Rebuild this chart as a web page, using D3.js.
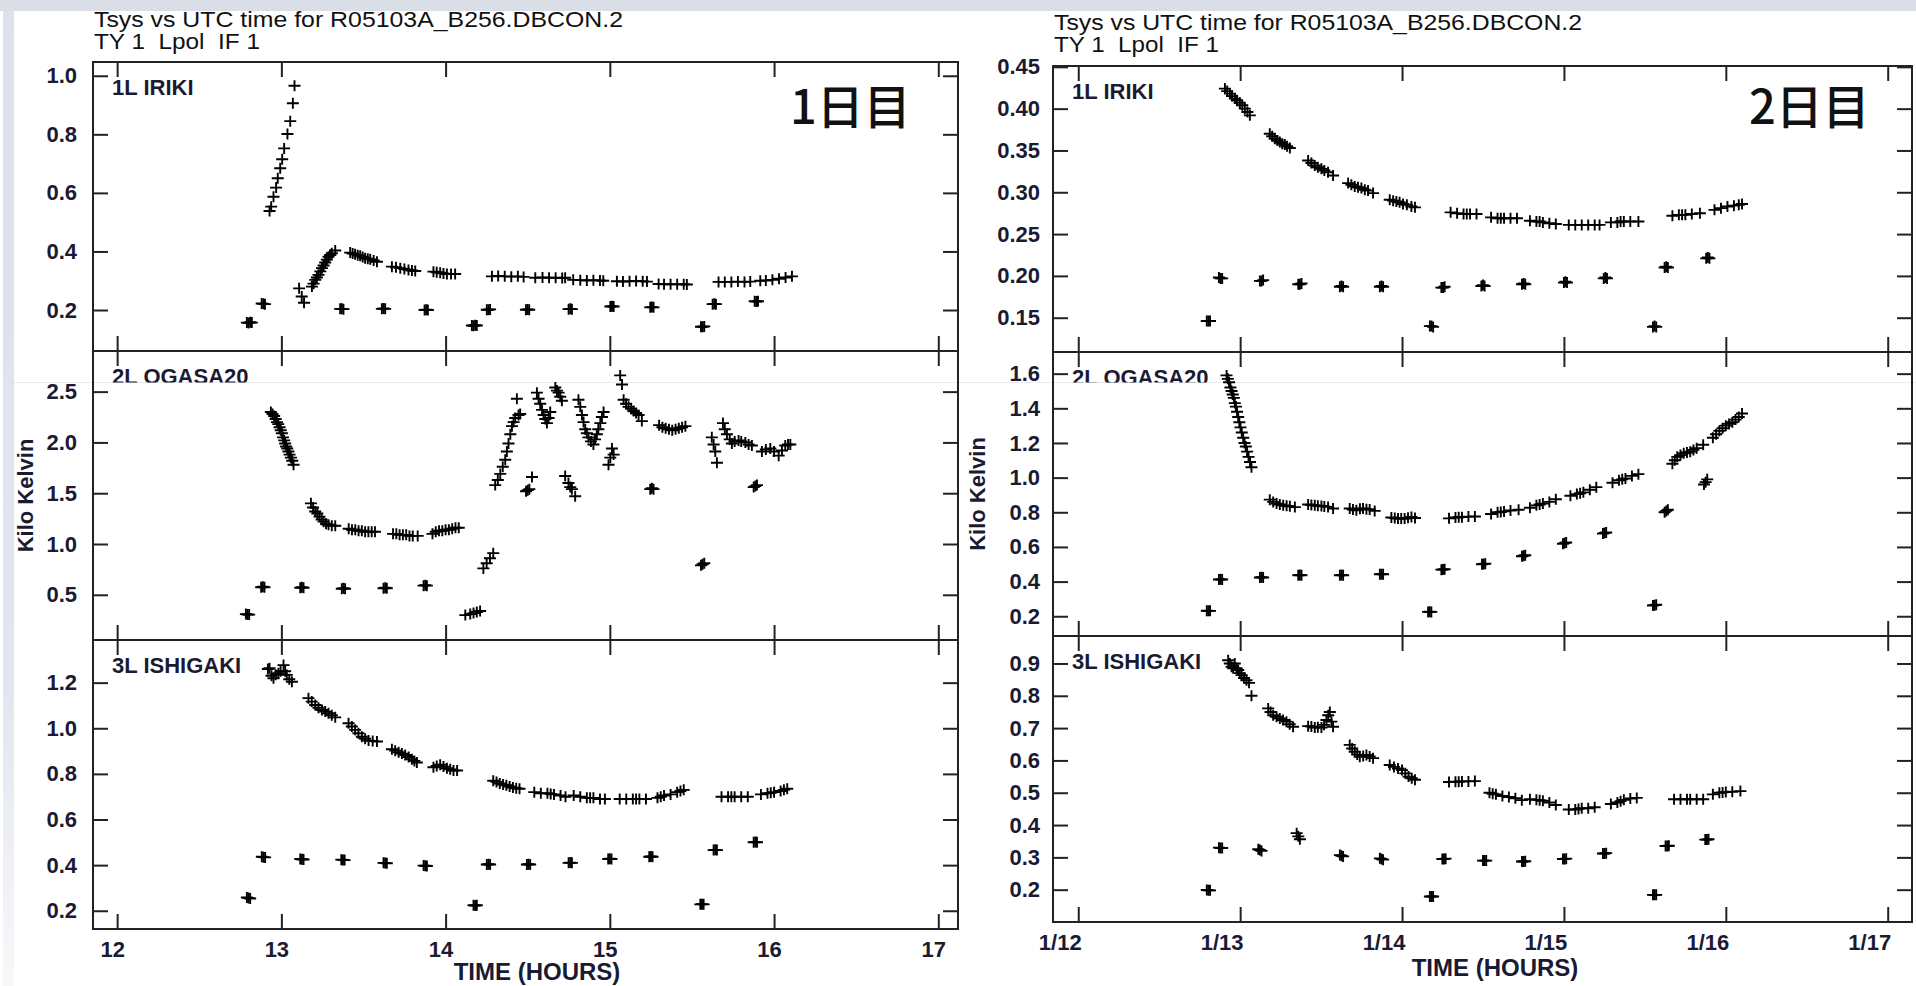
<!DOCTYPE html>
<html>
<head>
<meta charset="utf-8">
<script src="https://cdn.jsdelivr.net/npm/d3@7"></script>
<style>
  body { margin: 0; background: #fff; }
  svg { display: block; }
  .axis text { font-family: "Liberation Sans", Arial, sans-serif; font-weight: bold; font-size: 22px; fill: #1a1a33; }
  .axis line { stroke: #222; stroke-width: 2; }
  .label { font-family: "Liberation Sans", Arial, sans-serif; font-weight: bold; font-size: 22px; fill: #1a1a33; }
  .title { font-family: "Liberation Sans Narrow", "Liberation Sans", Arial, sans-serif; font-size: 22.5px; fill: #111; white-space: pre; }
  .day { font-family: "Noto Sans CJK JP", sans-serif; font-weight: 500; font-size: 47px; fill: #111; }
</style>
</head>
<body>
<svg id="chart" width="1916" height="986"></svg>
<script>
// Tsys vs UTC time, two observing days side by side (three stations each).

var TICK = 15;

var hourTicks = [12, 13, 14, 15, 16, 17];
var day1TickLabels = ["12", "13", "14", "15", "16", "17"];
var day2TickLabels = ["1/12", "1/13", "1/14", "1/15", "1/16", "1/17"];
var stationNames = ["1L IRIKI", "2L OGASA20", "3L ISHIGAKI"];
var titleLines = ["Tsys vs UTC time for R05103A_B256.DBCON.2", "TY 1  Lpol  IF 1"];

// y ranges and tick values for each panel (Kilo Kelvin)
var day1YDomains = [[0.060, 1.047], [0.055, 2.90], [0.12, 1.387]];
var day2YDomains = [[0.109, 0.451], [0.086, 1.725], [0.10, 0.985]];
var day1YTicks = [[0.2, 0.4, 0.6, 0.8, 1.0], [0.5, 1.0, 1.5, 2.0, 2.5], [0.2, 0.4, 0.6, 0.8, 1.0, 1.2]];
var day2YTicks = [[0.15, 0.20, 0.25, 0.30, 0.35, 0.40, 0.45], [0.2, 0.4, 0.6, 0.8, 1.0, 1.2, 1.4, 1.6], [0.2, 0.3, 0.4, 0.5, 0.6, 0.7, 0.8, 0.9]];
var day1YFormats = [".1f", ".1f", ".1f"];
var day2YFormats = [".2f", ".1f", ".1f"];

// [UTC hour, Tsys in kK]
var day1Iriki = [
  [12.928,0.538],[12.938,0.553],[12.952,0.587],[12.968,0.618],[12.978,0.650],[12.993,0.684],[13.005,0.715],[13.017,0.752],[13.037,0.801],[13.054,0.845],[13.070,0.906],[13.080,0.966],
  [12.79,0.157],[12.80,0.156],[12.81,0.158],[12.82,0.157],[12.88,0.222],[12.89,0.221],[12.90,0.220],
  [13.108,0.274],[13.124,0.246],[13.138,0.225],[13.186,0.280],[13.196,0.290],[13.206,0.303],[13.216,0.311],[13.226,0.320],[13.237,0.332],[13.247,0.343],[13.257,0.352],[13.267,0.362],[13.277,0.372],[13.287,0.382],[13.297,0.388],[13.307,0.394],[13.328,0.403],
  [13.419,0.396],[13.434,0.393],[13.449,0.390],[13.465,0.387],[13.480,0.385],[13.495,0.381],[13.510,0.377],[13.526,0.375],[13.541,0.373],[13.562,0.369],[13.582,0.365],
  [13.673,0.348],[13.698,0.346],[13.724,0.343],[13.749,0.340],[13.774,0.337],[13.795,0.335],[13.815,0.333],
  [13.926,0.331],[13.946,0.329],[13.967,0.327],[13.987,0.325],[14.008,0.323],[14.033,0.323],[14.058,0.323],
  [13.358,0.204],[13.368,0.204],[13.378,0.203],[13.612,0.204],[13.622,0.205],[13.632,0.204],[13.872,0.200],[13.882,0.201],[13.892,0.200],[14.16,0.147],[14.17,0.146],[14.18,0.148],[14.19,0.147],
  [14.282,0.315],[14.32,0.316],[14.36,0.315],[14.40,0.314],[14.44,0.315],[14.475,0.313],
  [14.546,0.310],[14.59,0.311],[14.63,0.310],[14.67,0.310],[14.71,0.309],[14.728,0.310],
  [14.777,0.303],[14.82,0.302],[14.86,0.301],[14.90,0.302],[14.94,0.301],[14.960,0.300],
  [15.043,0.298],[15.08,0.297],[15.12,0.298],[15.16,0.299],[15.20,0.298],[15.226,0.297],
  [15.297,0.289],[15.33,0.288],[15.37,0.288],[15.41,0.288],[15.45,0.288],[15.469,0.287],
  [15.662,0.296],[15.70,0.296],[15.74,0.296],[15.78,0.297],[15.82,0.296],[15.855,0.297],
  [15.916,0.300],[15.95,0.301],[15.99,0.303],[16.03,0.307],[16.07,0.311],[16.109,0.315],
  [14.251,0.201],[14.261,0.201],[14.271,0.202],[14.489,0.201],[14.499,0.202],[14.509,0.201],[14.749,0.203],[14.759,0.204],[14.769,0.203],
  [15.003,0.212],[15.013,0.213],[15.023,0.212],[15.246,0.209],[15.256,0.210],[15.266,0.209],[15.555,0.143],[15.565,0.143],[15.575,0.144],
  [15.626,0.220],[15.636,0.221],[15.646,0.220],[15.882,0.230],[15.892,0.229],[15.902,0.230]
];

var day1Ogasa = [
  [12.936,2.30],[12.946,2.28],[12.956,2.26],[12.965,2.23],[12.973,2.20],[12.981,2.18],[12.989,2.15],[12.996,2.12],[13.003,2.09],[13.010,2.05],[13.017,2.02],[13.023,1.99],[13.029,1.96],[13.036,1.94],[13.043,1.91],[13.050,1.88],[13.058,1.85],[13.066,1.82],[13.074,1.78],
  [13.18,1.40],[13.193,1.36],[13.206,1.32],[13.219,1.30],[13.232,1.27],[13.245,1.24],[13.257,1.22],[13.272,1.20],[13.287,1.19],[13.307,1.18],[13.328,1.18],
  [13.41,1.15],[13.43,1.14],[13.45,1.14],[13.47,1.13],[13.49,1.13],[13.51,1.12],[13.53,1.12],[13.55,1.12],[13.57,1.12],
  [13.68,1.10],[13.70,1.10],[13.72,1.09],[13.74,1.09],[13.76,1.09],[13.78,1.08],[13.80,1.08],[13.83,1.08],
  [13.92,1.10],[13.94,1.12],[13.96,1.13],[13.98,1.13],[14.00,1.14],[14.02,1.14],[14.04,1.15],[14.06,1.16],[14.08,1.16],
  [12.784,0.31],[12.794,0.306],[12.804,0.305],[12.877,0.575],[12.887,0.58],[12.897,0.575],[13.115,0.57],[13.125,0.575],[13.135,0.57],
  [13.368,0.56],[13.378,0.565],[13.388,0.56],[13.622,0.565],[13.632,0.57],[13.642,0.565],[13.866,0.59],[13.876,0.595],[13.886,0.59],
  [14.12,0.30],[14.15,0.31],[14.17,0.32],[14.19,0.33],[14.21,0.34],
  [14.23,0.76],[14.25,0.81],[14.27,0.86],[14.29,0.91],
  [14.302,1.58],[14.318,1.63],[14.333,1.69],[14.348,1.76],[14.363,1.83],[14.373,1.91],[14.383,1.99],[14.394,2.08],[14.404,2.16],[14.414,2.20],[14.424,2.24],[14.434,2.43],[14.444,2.27],[14.454,2.28],
  [14.49,1.52],[14.50,1.53],[14.51,1.54],[14.526,1.66],
  [14.556,2.49],[14.566,2.43],[14.576,2.38],[14.587,2.32],[14.597,2.27],[14.607,2.23],[14.617,2.19],[14.627,2.24],[14.637,2.30],
  [14.668,2.54],[14.678,2.51],[14.688,2.49],[14.698,2.45],[14.708,2.41],
  [14.728,1.67],[14.748,1.60],[14.759,1.56],[14.769,1.54],[14.789,1.47],
  [14.809,2.42],[14.82,2.35],[14.830,2.27],[14.84,2.20],[14.85,2.13],[14.86,2.09],[14.870,2.05],[14.885,2.01],[14.90,1.98],[14.91,2.03],[14.921,2.08],[14.93,2.13],[14.942,2.19],[14.952,2.25],[14.962,2.30],
  [14.992,1.78],[15.003,1.85],[15.013,1.94],[15.023,1.88],
  [15.063,2.66],[15.074,2.57],[15.084,2.42],[15.099,2.38],[15.114,2.35],[15.13,2.33],[15.145,2.31],[15.16,2.29],[15.175,2.27],[15.195,2.21],
  [15.246,1.54],[15.256,1.55],[15.266,1.54],
  [15.30,2.17],[15.32,2.15],[15.34,2.14],[15.36,2.13],[15.38,2.12],[15.40,2.13],[15.42,2.14],[15.44,2.15],[15.46,2.16],
  [15.555,0.79],[15.565,0.80],[15.575,0.81],
  [15.621,2.05],[15.632,1.98],[15.642,1.91],[15.652,1.80],
  [15.689,2.19],[15.70,2.13],[15.713,2.08],[15.73,2.03],[15.743,1.99],[15.76,2.01],[15.784,2.02],[15.80,2.01],[15.825,2.00],[15.845,1.98],[15.865,1.97],
  [15.876,1.56],[15.886,1.57],[15.896,1.58],
  [15.926,1.91],[15.95,1.93],[15.977,1.94],[16.00,1.91],[16.028,1.87],[16.048,1.92],[16.068,1.97],[16.085,1.98],[16.099,1.98]
];

var day1Ishigaki = [
  [12.918,1.26],[12.928,1.263],[12.94,1.23],[12.952,1.219],[12.965,1.235],[12.982,1.241],[12.995,1.25],[13.013,1.277],[13.023,1.25],[13.033,1.234],[13.048,1.215],[13.064,1.204],
  [13.165,1.132],[13.185,1.117],[13.206,1.102],[13.226,1.09],[13.247,1.080],[13.267,1.073],[13.287,1.066],[13.307,1.057],[13.328,1.048],
  [13.409,1.022],[13.429,1.008],[13.449,0.993],[13.469,0.978],[13.490,0.963],[13.51,0.954],[13.531,0.946],[13.556,0.944],[13.582,0.942],
  [13.673,0.908],[13.693,0.902],[13.714,0.895],[13.734,0.889],[13.754,0.883],[13.775,0.874],[13.795,0.864],[13.81,0.857],[13.825,0.850],
  [13.926,0.829],[13.946,0.835],[13.967,0.840],[13.987,0.832],[14.008,0.825],[14.028,0.82],[14.048,0.815],[14.07,0.815],
  [12.79,0.258],[12.80,0.256],[12.81,0.254],[12.881,0.437],[12.891,0.435],[12.901,0.434],[13.115,0.427],[13.125,0.426],[13.135,0.425],
  [13.365,0.424],[13.375,0.423],[13.385,0.422],[13.622,0.41],[13.632,0.409],[13.642,0.408],[13.866,0.398],[13.876,0.397],[13.886,0.396],
  [14.17,0.224],[14.18,0.223],[14.19,0.224],
  [14.29,0.77],[14.31,0.765],[14.33,0.758],[14.35,0.753],[14.37,0.75],[14.39,0.745],[14.41,0.74],[14.43,0.737],[14.45,0.735],
  [14.54,0.72],[14.58,0.715],[14.62,0.715],[14.64,0.712],[14.66,0.71],[14.70,0.705],[14.73,0.70],
  [14.78,0.705],[14.82,0.70],[14.86,0.695],[14.88,0.695],[14.90,0.695],[14.94,0.69],[14.97,0.69],
  [15.06,0.69],[15.10,0.69],[15.14,0.69],[15.16,0.69],[15.18,0.69],[15.22,0.69],
  [15.29,0.695],[15.31,0.70],[15.33,0.705],[15.37,0.71],[15.41,0.72],[15.43,0.725],[15.45,0.73],
  [15.68,0.70],[15.72,0.70],[15.74,0.70],[15.76,0.70],[15.80,0.70],[15.84,0.70],
  [15.92,0.71],[15.96,0.715],[15.98,0.717],[16.00,0.72],[16.04,0.725],[16.06,0.73],[16.08,0.735],
  [14.251,0.403],[14.261,0.404],[14.271,0.403],[14.495,0.403],[14.505,0.404],[14.515,0.403],[14.749,0.41],[14.759,0.411],[14.769,0.41],
  [14.99,0.427],[15.0,0.428],[15.01,0.427],[15.24,0.437],[15.25,0.438],[15.26,0.437],[15.551,0.228],[15.561,0.229],[15.571,0.228],
  [15.632,0.466],[15.642,0.467],[15.652,0.466],[15.876,0.50],[15.886,0.501],[15.896,0.50]
];

var day2Iriki = [
  [12.906,0.424],[12.92,0.421],[12.937,0.418],[12.95,0.415],[12.967,0.412],[12.98,0.41],[12.998,0.407],[13.013,0.404],[13.029,0.400],[13.045,0.396],[13.060,0.392],
  [13.183,0.370],[13.198,0.367],[13.214,0.364],[13.23,0.362],[13.245,0.360],[13.26,0.358],[13.276,0.357],[13.29,0.355],[13.307,0.353],
  [13.420,0.338],[13.44,0.335],[13.461,0.332],[13.48,0.330],[13.502,0.328],[13.52,0.326],[13.543,0.324],[13.574,0.320],
  [13.667,0.311],[13.687,0.309],[13.708,0.307],[13.728,0.306],[13.749,0.305],[13.77,0.303],[13.790,0.302],[13.821,0.299],
  [13.924,0.291],[13.945,0.290],[13.965,0.289],[13.985,0.288],[14.006,0.286],[14.03,0.285],[14.058,0.283],[14.08,0.282],
  [14.30,0.276],[14.34,0.275],[14.38,0.274],[14.40,0.274],[14.42,0.274],[14.46,0.274],
  [14.55,0.270],[14.59,0.269],[14.61,0.269],[14.63,0.269],[14.67,0.269],[14.71,0.269],
  [14.79,0.266],[14.83,0.265],[14.85,0.265],[14.87,0.264],[14.91,0.263],[14.95,0.262],
  [15.03,0.261],[15.07,0.261],[15.11,0.261],[15.15,0.261],[15.19,0.261],[15.22,0.261],
  [15.29,0.264],[15.33,0.264],[15.35,0.265],[15.37,0.265],[15.41,0.265],[15.46,0.265],
  [15.67,0.272],[15.71,0.273],[15.73,0.273],[15.75,0.273],[15.79,0.274],[15.84,0.275],
  [15.93,0.279],[15.97,0.281],[16.01,0.283],[16.05,0.284],[16.08,0.285],[16.10,0.286],
  [12.794,0.146],[12.804,0.146],[12.814,0.146],[12.869,0.198],[12.879,0.197],[12.889,0.197],[13.122,0.194],[13.132,0.194],[13.142,0.195],
  [13.359,0.190],[13.369,0.190],[13.379,0.191],[13.616,0.187],[13.626,0.188],[13.636,0.187],[13.863,0.187],[13.873,0.188],[13.883,0.187],
  [14.172,0.140],[14.182,0.140],[14.192,0.139],[14.243,0.186],[14.253,0.186],[14.263,0.187],[14.49,0.188],[14.50,0.189],[14.51,0.188],
  [14.741,0.190],[14.751,0.191],[14.761,0.190],[15.0,0.192],[15.009,0.193],[15.019,0.192],[15.246,0.197],[15.256,0.198],[15.266,0.197],
  [15.55,0.139],[15.56,0.140],[15.57,0.139],[15.622,0.210],[15.632,0.211],[15.642,0.210],[15.879,0.221],[15.889,0.222],[15.899,0.221]
];

var day2Ogasa = [
  [12.916,1.59],[12.924,1.57],[12.932,1.55],[12.94,1.52],[12.947,1.50],[12.954,1.48],[12.961,1.46],[12.967,1.43],[12.974,1.41],[12.981,1.38],[12.988,1.35],[12.995,1.32],[13.002,1.29],[13.01,1.26],[13.019,1.23],[13.027,1.20],[13.035,1.18],[13.043,1.15],[13.052,1.12],[13.061,1.09],[13.07,1.06],
  [13.183,0.873],[13.204,0.86],[13.225,0.85],[13.245,0.845],[13.266,0.84],[13.287,0.837],[13.307,0.835],[13.338,0.83],
  [13.42,0.845],[13.44,0.842],[13.461,0.84],[13.48,0.838],[13.502,0.836],[13.52,0.834],[13.543,0.831],[13.574,0.822],
  [13.677,0.822],[13.697,0.816],[13.718,0.812],[13.74,0.82],[13.759,0.822],[13.78,0.818],[13.80,0.816],[13.831,0.808],
  [13.934,0.77],[13.955,0.767],[13.975,0.764],[13.995,0.764],[14.016,0.764],[14.037,0.768],[14.058,0.773],[14.08,0.767],
  [14.29,0.765],[14.33,0.77],[14.35,0.771],[14.37,0.772],[14.41,0.775],[14.45,0.776],
  [14.55,0.79],[14.59,0.80],[14.61,0.802],[14.63,0.805],[14.67,0.81],[14.72,0.815],
  [14.79,0.826],[14.83,0.84],[14.85,0.845],[14.87,0.85],[14.91,0.86],[14.95,0.875],
  [15.04,0.895],[15.08,0.905],[15.10,0.91],[15.12,0.915],[15.16,0.93],[15.20,0.945],
  [15.30,0.97],[15.34,0.985],[15.36,0.99],[15.38,0.995],[15.42,1.01],[15.46,1.02],
  [15.67,1.08],[15.685,1.10],[15.70,1.12],[15.72,1.13],[15.74,1.14],[15.76,1.145],[15.78,1.15],[15.80,1.16],[15.82,1.17],[15.86,1.19],
  [15.92,1.23],[15.94,1.25],[15.96,1.27],[15.98,1.285],[16.00,1.30],[16.02,1.31],[16.04,1.32],[16.06,1.335],[16.08,1.35],[16.10,1.37],
  [12.794,0.232],[12.804,0.231],[12.814,0.231],[12.869,0.412],[12.879,0.413],[12.889,0.412],[13.122,0.424],[13.132,0.425],[13.142,0.424],
  [13.359,0.437],[13.369,0.438],[13.379,0.437],[13.616,0.437],[13.626,0.438],[13.636,0.437],[13.863,0.442],[13.873,0.443],[13.883,0.442],
  [14.161,0.225],[14.171,0.226],[14.181,0.225],[14.243,0.469],[14.253,0.47],[14.263,0.471],[14.494,0.50],[14.504,0.502],[14.514,0.503],
  [14.741,0.546],[14.751,0.549],[14.761,0.552],[14.994,0.618],[15.004,0.622],[15.014,0.626],[15.241,0.677],[15.251,0.68],[15.261,0.683],
  [15.55,0.262],[15.56,0.264],[15.57,0.266],[15.622,0.80],[15.632,0.808],[15.642,0.815],[15.865,0.96],[15.875,0.974],[15.885,0.99]
];

var day2Ishigaki = [
  [12.926,0.91],[12.936,0.90],[12.947,0.89],[12.957,0.885],[12.967,0.90],[12.978,0.885],[12.988,0.88],[12.998,0.87],[13.009,0.864],[13.024,0.855],[13.039,0.848],[13.055,0.84],[13.07,0.80],
  [13.173,0.761],[13.188,0.75],[13.204,0.74],[13.225,0.735],[13.245,0.73],[13.265,0.725],[13.286,0.72],[13.306,0.712],[13.327,0.704],
  [13.42,0.706],[13.44,0.705],[13.461,0.702],[13.48,0.703],[13.502,0.702],[13.518,0.71],[13.533,0.725],[13.544,0.74],[13.554,0.75],[13.564,0.72],[13.574,0.704],
  [13.677,0.648],[13.692,0.637],[13.708,0.627],[13.723,0.618],[13.739,0.611],[13.76,0.614],[13.78,0.617],[13.80,0.612],[13.821,0.607],
  [13.924,0.586],[13.95,0.58],[13.975,0.575],[14.00,0.57],[14.02,0.56],[14.04,0.55],[14.06,0.545],[14.08,0.54],
  [14.29,0.533],[14.33,0.534],[14.35,0.534],[14.37,0.535],[14.41,0.535],[14.45,0.536],
  [14.54,0.50],[14.56,0.497],[14.58,0.495],[14.62,0.49],[14.66,0.487],[14.70,0.483],[14.74,0.477],
  [14.79,0.48],[14.83,0.478],[14.85,0.477],[14.87,0.475],[14.91,0.47],[14.95,0.462],
  [15.03,0.448],[15.07,0.448],[15.09,0.45],[15.11,0.452],[15.15,0.452],[15.19,0.455],
  [15.29,0.465],[15.33,0.47],[15.35,0.474],[15.37,0.478],[15.41,0.482],[15.45,0.484],
  [15.68,0.48],[15.72,0.48],[15.76,0.48],[15.78,0.48],[15.82,0.48],[15.86,0.48],
  [15.92,0.495],[15.96,0.50],[15.98,0.501],[16.00,0.502],[16.04,0.503],[16.09,0.505],
  [12.794,0.199],[12.804,0.198],[12.814,0.198],[12.869,0.33],[12.879,0.329],[12.889,0.329],[13.112,0.325],[13.122,0.323],[13.132,0.320],
  [13.349,0.375],[13.359,0.365],[13.369,0.356],[13.616,0.307],[13.626,0.305],[13.636,0.303],[13.863,0.297],[13.873,0.295],[13.883,0.293],
  [14.172,0.179],[14.182,0.179],[14.192,0.179],[14.249,0.295],[14.259,0.295],[14.269,0.296],[14.50,0.29],[14.51,0.29],[14.52,0.29],
  [14.741,0.287],[14.751,0.287],[14.761,0.288],[14.994,0.295],[15.004,0.295],[15.014,0.296],[15.241,0.312],[15.251,0.312],[15.261,0.313],
  [15.55,0.184],[15.56,0.184],[15.57,0.184],[15.628,0.335],[15.638,0.335],[15.648,0.336],[15.873,0.355],[15.883,0.355],[15.893,0.356]
];

// Page layout for the two screenshots.
var charts = [
  { left: 93, right: 958, tops: [62, 351, 640, 929], xDomain: [11.853, 17.12],
    xLabels: day1TickLabels, xLabelDx: -5, stations: [day1Iriki, day1Ogasa, day1Ishigaki],
    yDomains: day1YDomains, yTicks: day1YTicks, yFormats: day1YFormats, yPad: 16,
    titleY: 26.5, titleWidths: [529, 166], day: "1日目", dayX: 790,
    kelvinX: 33, timeX: 537, timeY: 980 },
  { left: 1053, right: 1912, tops: [66, 352, 636, 922], xDomain: [11.844, 17.15],
    xLabels: day2TickLabels, xLabelDx: -18.5, stations: [day2Iriki, day2Ogasa, day2Ishigaki],
    yDomains: day2YDomains, yTicks: day2YTicks, yFormats: day2YFormats, yPad: 13,
    titleY: 29.5, titleWidths: [528, 165], day: "2日目", dayX: 1749,
    kelvinX: 985, timeX: 1495, timeY: 976 }
];

var svg = d3.select("#chart");

// Slide background: light band along the top and a fading strip at the left.
var defs = svg.append("defs");
var grad = defs.append("linearGradient").attr("id", "strip")
  .attr("x1", 0).attr("y1", 0).attr("x2", 0).attr("y2", 1);
grad.append("stop").attr("offset", "0%").attr("stop-color", "#dce1ea");
grad.append("stop").attr("offset", "70%").attr("stop-color", "#e2e6ee");
grad.append("stop").attr("offset", "100%").attr("stop-color", "#f7f8fa");
defs.append("clipPath").attr("id", "seam")
  .append("rect").attr("x", 0).attr("y", 0).attr("width", 1916).attr("height", 382.5);

svg.append("rect").attr("x", 3).attr("y", 0).attr("width", 11).attr("height", 986).attr("fill", "url(#strip)");
svg.append("rect").attr("x", 0).attr("y", 0).attr("width", 1916).attr("height", 11).attr("fill", "#d9dee7");
svg.append("line").attr("x1", 14).attr("x2", 1916).attr("y1", 382.5).attr("y2", 382.5)
  .attr("stroke", "#ebebeb").attr("stroke-width", 1);

function plusPath(w, h) {
  return "M" + (-w) + ",0H" + w + "M0," + (-h) + "V" + h;
}

function drawChart(c) {
  var x = d3.scaleLinear().domain(c.xDomain).range([c.left, c.right]);
  var g = svg.append("g");

  // Title, two lines above the frame.
  titleLines.forEach(function(t, i) {
    g.append("text").attr("class", "title")
      .attr("x", c.left + 1).attr("y", c.titleY + i * 22)
      .attr("textLength", c.titleWidths[i]).attr("lengthAdjust", "spacingAndGlyphs")
      .text(t);
  });

  c.stations.forEach(function(points, i) {
    var top = c.tops[i], bottom = c.tops[i + 1];
    var y = d3.scaleLinear().domain(c.yDomains[i]).range([bottom, top]);
    var last = (i === c.stations.length - 1);

    // Inward ticks on all four sides of the panel.
    g.append("g").attr("class", "axis")
      .attr("transform", "translate(" + c.left + ",0)")
      .call(d3.axisLeft(y).tickValues(c.yTicks[i]).tickSize(-TICK).tickPadding(c.yPad)
        .tickFormat(d3.format(c.yFormats[i])));
    g.append("g").attr("class", "axis")
      .attr("transform", "translate(" + c.right + ",0)")
      .call(d3.axisRight(y).tickValues(c.yTicks[i]).tickSize(-TICK).tickFormat(""));
    g.append("g").attr("class", "axis")
      .attr("transform", "translate(0," + top + ")")
      .call(d3.axisTop(x).tickValues(hourTicks).tickSize(-TICK).tickFormat(""));
    var bottomAxis = g.append("g").attr("class", "axis")
      .attr("transform", "translate(0," + bottom + ")")
      .call(d3.axisBottom(x).tickValues(hourTicks).tickSize(-TICK).tickPadding(12)
        .tickFormat(function(d, k) { return last ? c.xLabels[k] : ""; }));
    bottomAxis.selectAll("text").attr("dx", c.xLabelDx);
    g.selectAll(".axis .domain").remove();
    g.selectAll(".axis").attr("font-size", null).attr("font-family", null);

    // Panel frame.
    g.append("rect")
      .attr("x", c.left).attr("y", top)
      .attr("width", c.right - c.left).attr("height", bottom - top)
      .attr("fill", "none").attr("stroke", "#222").attr("stroke-width", 2);

    // Station name; the middle one is partly lost under the slide seam.
    var lab = g.append("text").attr("class", "label")
      .attr("x", c.left + 19).attr("y", top + 33)
      .text(stationNames[i]);
    if (i === 1) lab.attr("clip-path", "url(#seam)");

    // One plus marker per Tsys measurement.
    g.append("g")
      .selectAll("path")
      .data(points)
      .join("path")
      .attr("transform", function(d) { return "translate(" + x(d[0]) + "," + y(d[1]) + ")"; })
      .attr("d", plusPath(6, 5.5))
      .attr("stroke", "#000").attr("stroke-width", 1.9).attr("fill", "none");
  });

  g.append("text").attr("class", "label")
    .attr("transform", "translate(" + c.kelvinX + "," + (c.tops[1] + c.tops[2]) / 2 + ") rotate(-90)")
    .attr("text-anchor", "middle")
    .text("Kilo Kelvin");

  g.append("text").attr("class", "label")
    .attr("x", c.timeX).attr("y", c.timeY)
    .attr("text-anchor", "middle").style("font-size", "24px")
    .text("TIME (HOURS)");

  g.append("text").attr("class", "day")
    .attr("x", c.dayX).attr("y", 124)
    .text(c.day);
}

charts.forEach(drawChart);
</script>
</body>
</html>
